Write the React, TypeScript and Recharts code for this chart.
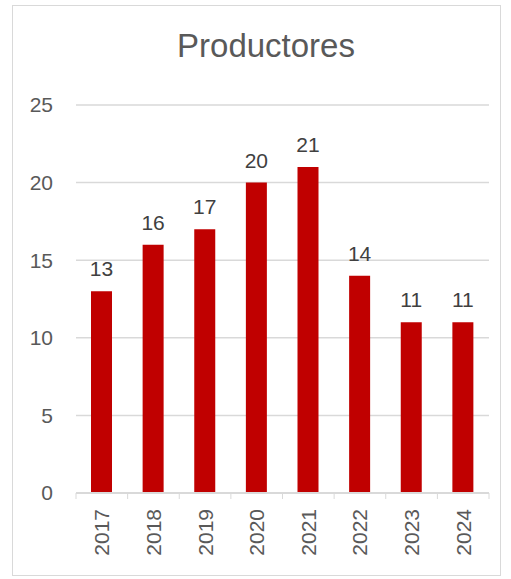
import { Bar, BarChart, CartesianGrid, LabelList, XAxis, YAxis } from "recharts";

const years = ["2017", "2018", "2019", "2020", "2021", "2022", "2023", "2024"];
const productores = [13, 16, 17, 20, 21, 14, 11, 11];
const yTicks = [0, 5, 10, 15, 20, 25];

const data = years.map((year, i) => ({ year, value: productores[i] }));

const FONT = "'Liberation Sans', Arial, sans-serif";
const GRID = "#d9d9d9";

// category tick: rotated label plus boundary tick marks on the axis
function YearTick(props: any) {
  const { x, y, payload, index } = props;
  const half = 413 / years.length / 2;
  return (
    <g>
      <line x1={x - half} y1={y - 8} x2={x - half} y2={y - 2} stroke={GRID} />
      {index === years.length - 1 && (
        <line x1={x + half} y1={y - 8} x2={x + half} y2={y - 2} stroke={GRID} />
      )}
      <text
        x={x}
        y={y + 8}
        transform={`rotate(-90, ${x}, ${y + 8})`}
        textAnchor="end"
        dominantBaseline="central"
        fill="#595959"
        fontSize={21}
        fontFamily={FONT}
      >
        {payload.value}
      </text>
    </g>
  );
}

export default function App() {
  return (
    <div style={{ position: "absolute", left: 0, top: 0, width: 511, height: 579, background: "#fff" }}>
      <div
        style={{
          position: "absolute",
          left: 12,
          top: 5,
          width: 487,
          height: 569,
          border: "1px solid #d9d9d9",
        }}
      />
      <div
        style={{
          position: "absolute",
          left: 0,
          top: 27,
          width: 532,
          textAlign: "center",
          fontFamily: FONT,
          fontSize: 33,
          color: "#595959",
        }}
      >
        Productores
      </div>
      <div style={{ position: "absolute", left: 0, top: 0 }}>
        <BarChart
          width={511}
          height={579}
          data={data}
          margin={{ top: 105, right: 22, bottom: 26, left: 0 }}
          barCategoryGap={0}
        >
          <CartesianGrid vertical={false} stroke={GRID} strokeWidth={1.5} />
          <XAxis
            dataKey="year"
            height={60}
            tickLine={false}
            axisLine={{ stroke: GRID, strokeWidth: 2 }}
            tick={<YearTick />}
            interval={0}
          />
          <YAxis
            width={76}
            domain={[0, 25]}
            ticks={yTicks}
            tickLine={false}
            axisLine={false}
            tickMargin={17}
            tick={{ fill: "#595959", fontSize: 21, fontFamily: FONT }}
          />
          <Bar dataKey="value" fill="#c00000" barSize={21} isAnimationActive={false}>
            <LabelList
              dataKey="value"
              position="top"
              offset={15}
              fill="#404040"
              fontSize={21}
              fontFamily={FONT}
            />
          </Bar>
        </BarChart>
      </div>
    </div>
  );
}
